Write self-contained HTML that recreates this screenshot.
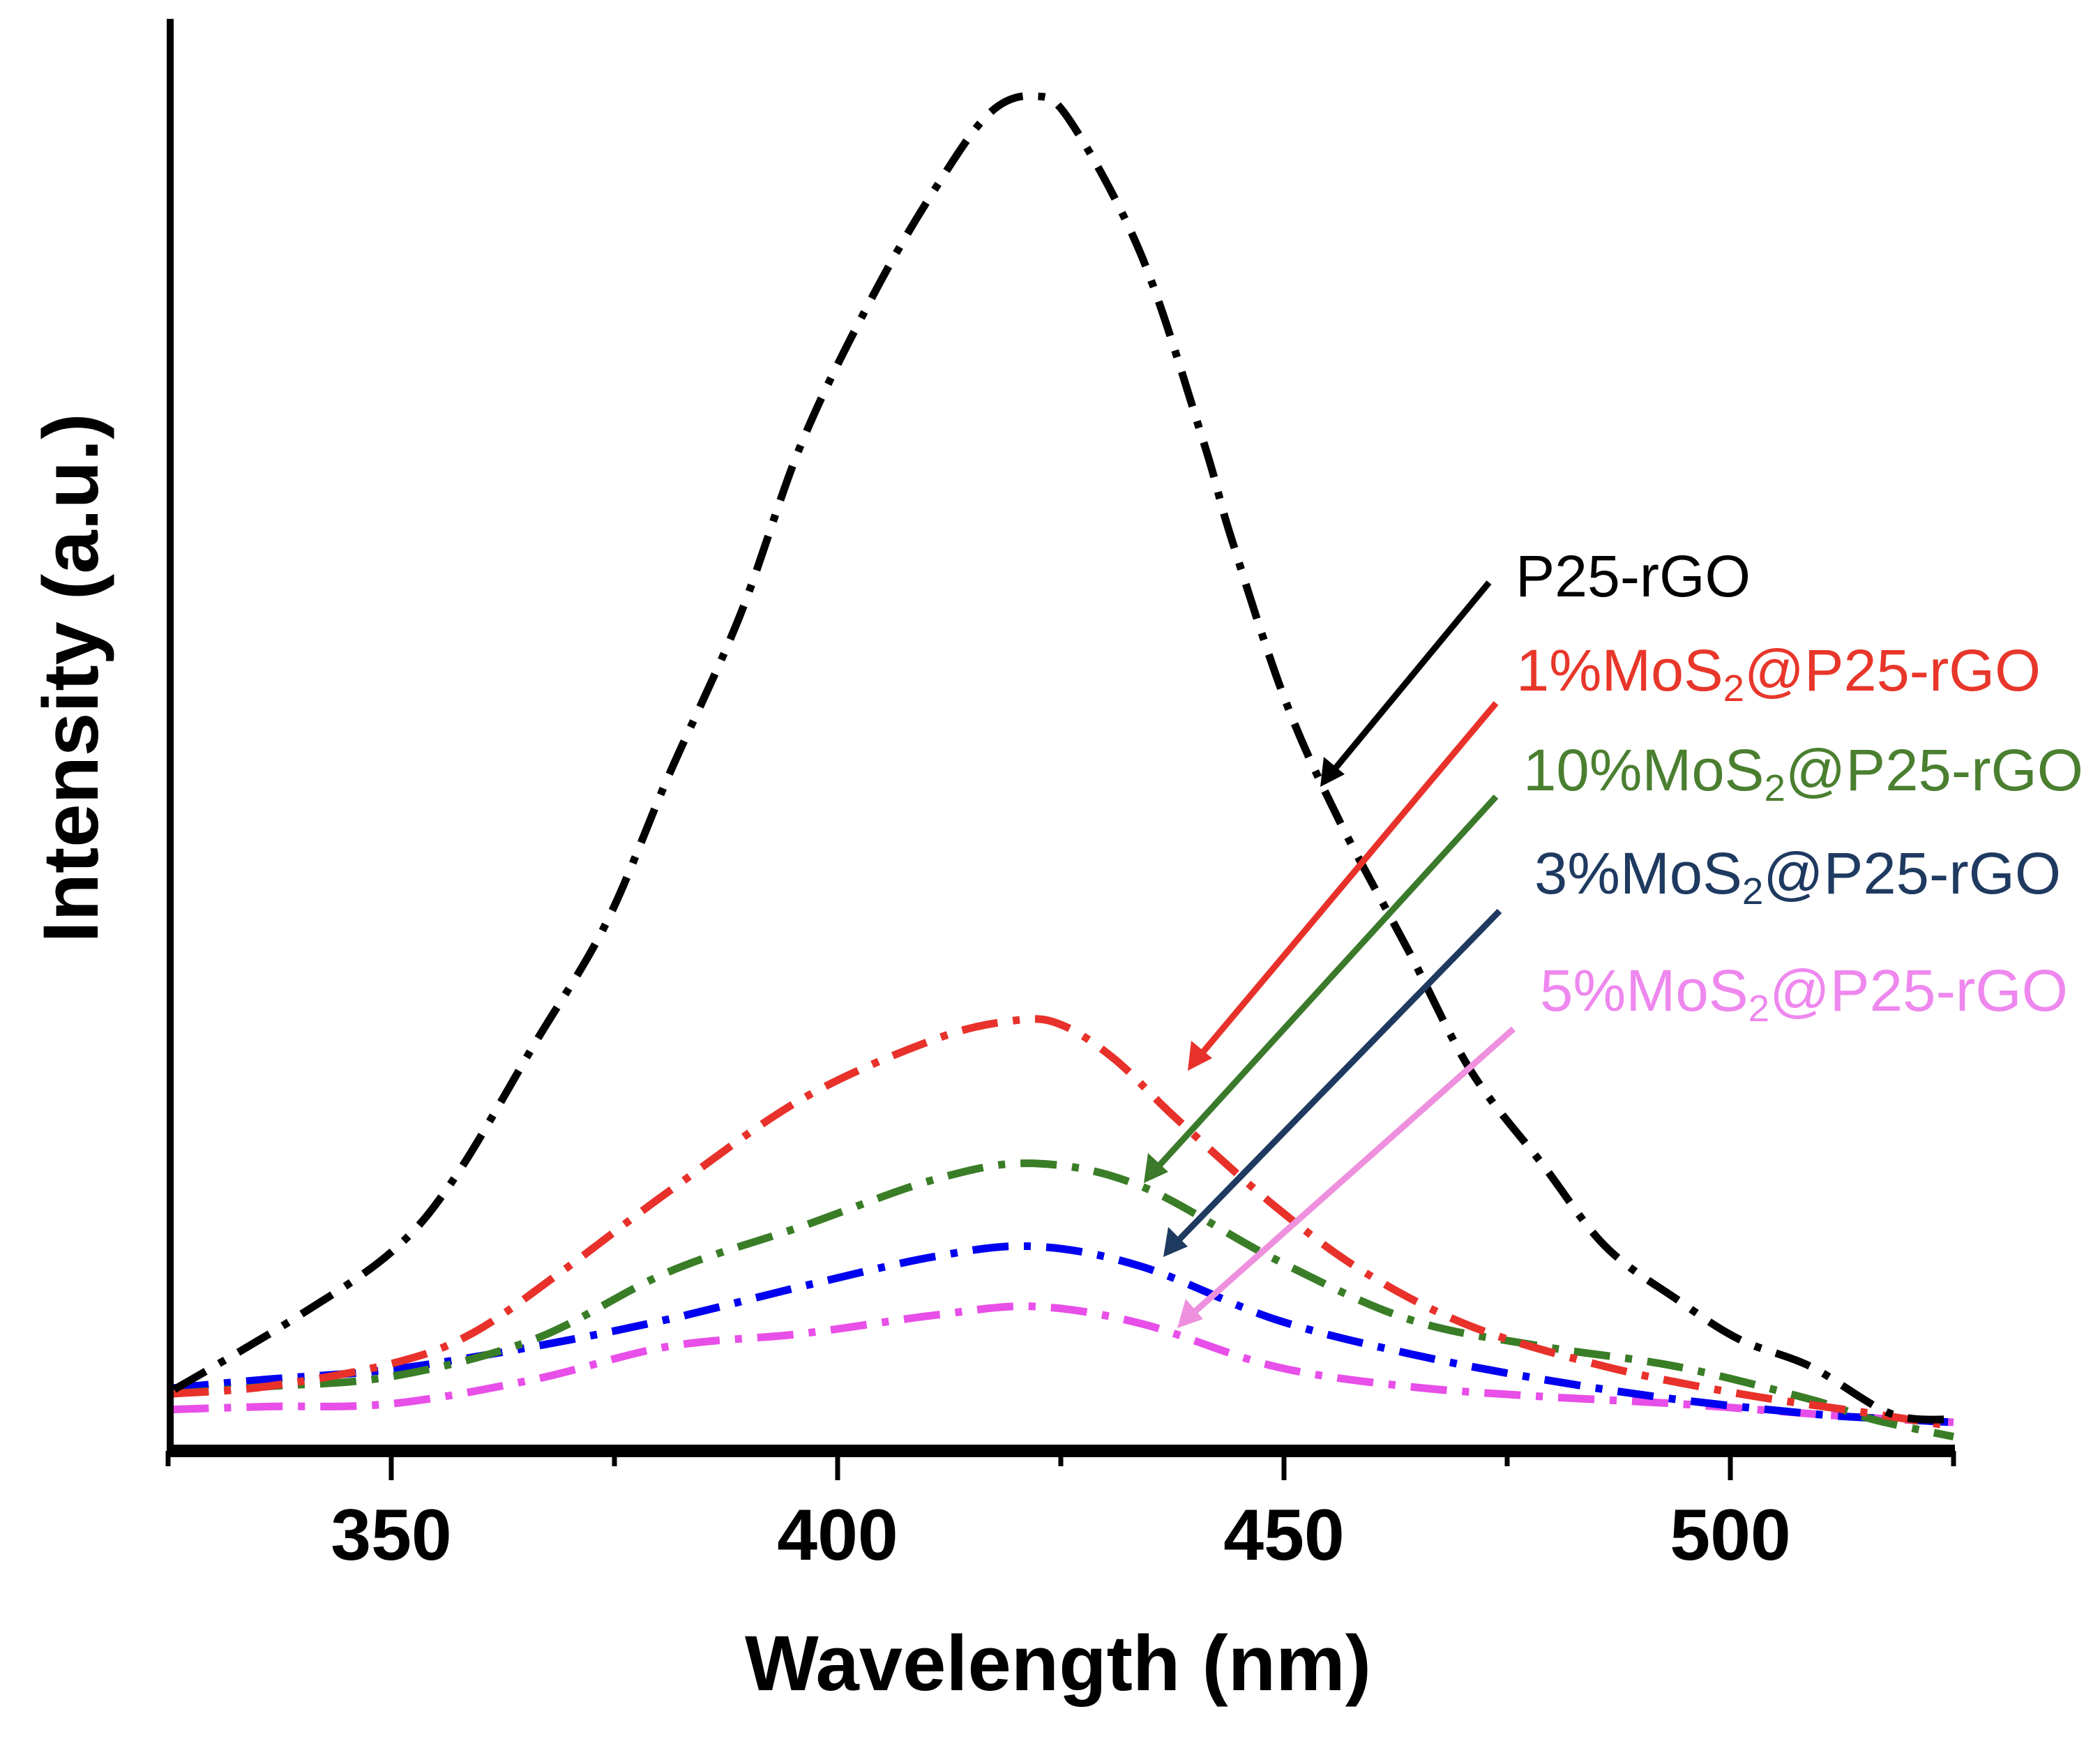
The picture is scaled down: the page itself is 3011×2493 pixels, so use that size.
<!DOCTYPE html>
<html><head><meta charset="utf-8"><style>
html,body{margin:0;padding:0;background:#fff;}
svg{display:block;font-family:"Liberation Sans",sans-serif;}
</style></head><body>
<svg id="chart" width="3011" height="2493" viewBox="0 0 3011 2493" xmlns="http://www.w3.org/2000/svg">
<rect width="3011" height="2493" fill="#fff"/>
<g id="series"></g>
<g id="axes">
<line x1="244" y1="27" x2="244" y2="2088" stroke="#000" stroke-width="10"/>
<line x1="240" y1="2080" x2="2803" y2="2080" stroke="#000" stroke-width="18"/>
</g>
<g id="ticks"></g>
<text x="1517" y="2423" font-size="112" font-weight="bold" text-anchor="middle">Wavelength (nm)</text>
<text transform="translate(140,972) rotate(-90)" font-size="112" font-weight="bold" text-anchor="middle">Intensity (a.u.)</text>
<g font-size="84">
<line x1="2135" y1="835" x2="1905" y2="1113" stroke="#000" stroke-width="9"/>
<polygon points="1893,1128 1898,1085 1928,1110" fill="#000"/>
<line x1="2145" y1="1008" x2="1715" y2="1520" stroke="#e8312a" stroke-width="9"/>
<polygon points="1703,1535 1708,1492 1738,1517" fill="#e8312a"/>
<line x1="2145" y1="1142" x2="1652" y2="1682" stroke="#3a7a2a" stroke-width="9"/>
<polygon points="1640,1696 1646,1653 1675,1680" fill="#3a7a2a"/>
<line x1="2150" y1="1306" x2="1680" y2="1788" stroke="#1f3a60" stroke-width="9"/>
<polygon points="1668,1802 1675,1759 1703,1787" fill="#1f3a60"/>
<line x1="2170" y1="1475" x2="1700" y2="1892" stroke="#ee90dd" stroke-width="9"/>
<polygon points="1688,1904 1700,1862 1725,1891" fill="#ee90dd"/>
<text x="2173" y="855" fill="#000" textLength="337" lengthAdjust="spacingAndGlyphs">P25-rGO</text>
<text x="2174" y="990" fill="#e8362a" textLength="752" lengthAdjust="spacingAndGlyphs">1%MoS<tspan font-size="54" dy="15">2</tspan><tspan dy="-15">@P25-rGO</tspan></text>
<text x="2184" y="1133" fill="#4a7f30" textLength="803" lengthAdjust="spacingAndGlyphs">10%MoS<tspan font-size="54" dy="15">2</tspan><tspan dy="-15">@P25-rGO</tspan></text>
<text x="2200" y="1281" fill="#1f3a60" textLength="755" lengthAdjust="spacingAndGlyphs">3%MoS<tspan font-size="54" dy="15">2</tspan><tspan dy="-15">@P25-rGO</tspan></text>
<text x="2208" y="1449" fill="#ee88ee" textLength="757" lengthAdjust="spacingAndGlyphs">5%MoS<tspan font-size="54" dy="15">2</tspan><tspan dy="-15">@P25-rGO</tspan></text>
</g>
</svg>
<script>
const wl_black=[325.7,339,350,357,366,374,381,389,396,404,411,417,422,426,434,441,444,450,456,464,471,479,486,494,501,509,518,525];
const int_black=[4.2,9.1,13.8,18.9,28.3,36.7,47,58.2,70.4,80.7,88.2,93.4,94.6,92.9,83.5,70.4,63.9,52.6,44.2,34.8,26.4,19.9,14.2,10.5,7.7,5.8,2.5,2.1];
const wl_red=[325.5,336,350,359,369,381,396,411,420,425,431,438,449,459,471,486,501,516,525];
const int_red=[3.9,4.4,6,8.1,12.4,18,24.5,28.7,30,29.7,27.3,23.1,17,12.4,8.6,5.8,3.9,2.5,1.6];
const wl_common=[325.5,336,350,366,381,396,411,422,434,449,464,479,494,509,516,525];
const int_green=[3.9,4.4,5.1,7.7,12.4,15.6,18.9,20,18.4,13.3,9.1,7.2,5.8,3.5,2.1,0.9];
const int_blue=[4.3,4.9,5.6,7.2,9.1,11.4,13.5,14.2,12.8,9.1,6.7,4.9,3.5,2.5,2.2,1.9];
const int_magenta=[2.8,3,3.2,4.9,7.2,8.1,9.4,10,8.8,5.8,4.4,3.7,3.2,2.5,2.2,1.9];
const xTicks=[350,400,450,500];
const xTickLabels=["350","400","450","500"];
const xMinor=[325,375,425,475,525];

const X0=325,X1=525,PX0=241,PX1=2801;
const Y0=0,Y1=100,PY0=2078,PY1=27;
function sx(v){return PX0+(v-X0)/(X1-X0)*(PX1-PX0);}
function sy(v){return PY0-(v-Y0)/(Y1-Y0)*(PY0-PY1);}
const NS="http://www.w3.org/2000/svg";
function pathFor(xs,ys){
  const p=xs.map((x,i)=>[sx(x),sy(ys[i])]);
  let d="M"+p[0][0]+","+p[0][1];
  for(let i=0;i<p.length-1;i++){
    const a=p[Math.max(0,i-1)],b=p[i],c=p[i+1],e=p[Math.min(p.length-1,i+2)];
    const c1=[b[0]+(c[0]-a[0])/6,b[1]+(c[1]-a[1])/6];
    const c2=[c[0]-(e[0]-b[0])/6,c[1]-(e[1]-b[1])/6];
    d+=" C"+c1+" "+c2+" "+c;
  }
  return d;
}
const g=document.getElementById('series');
function addSeries(name,xs,ys,color){
  const el=document.createElementNS(NS,'path');
  el.setAttribute('d',pathFor(xs,ys));
  el.setAttribute('fill','none');
  el.setAttribute('stroke',color);
  el.setAttribute('stroke-width','11');
  el.setAttribute('stroke-dasharray','52,22,10,22');
  
  
  g.appendChild(el);
}
addSeries('series-5pct-mos2',wl_common,int_magenta,'#e84ee8');
addSeries('series-3pct-mos2',wl_common,int_blue,'#0000f0');
addSeries('series-10pct-mos2',wl_common,int_green,'#3a7d27');
addSeries('series-1pct-mos2',wl_red,int_red,'#e8312a');
addSeries('series-p25-rgo',wl_black,int_black,'#000');

const tg=document.getElementById('ticks');
xTicks.forEach((t,i)=>{
  const l=document.createElementNS(NS,'line');
  l.setAttribute('x1',sx(t));l.setAttribute('x2',sx(t));
  l.setAttribute('y1',2080);l.setAttribute('y2',2122);
  l.setAttribute('stroke','#000');l.setAttribute('stroke-width','7');
  
  
  tg.appendChild(l);
  const tx=document.createElementNS(NS,'text');
  tx.setAttribute('x',sx(t));tx.setAttribute('y',2236);
  tx.setAttribute('text-anchor','middle');tx.setAttribute('font-size','104');
  tx.setAttribute('font-weight','bold');
  tx.textContent=xTickLabels[i];
  
  
  tg.appendChild(tx);
});
xMinor.forEach(t=>{
  const l=document.createElementNS(NS,'line');
  l.setAttribute('x1',sx(t));l.setAttribute('x2',sx(t));
  l.setAttribute('y1',2080);l.setAttribute('y2',2102);
  l.setAttribute('stroke','#000');l.setAttribute('stroke-width','7');
  
  
  tg.appendChild(l);
});
</script>
</body></html>
